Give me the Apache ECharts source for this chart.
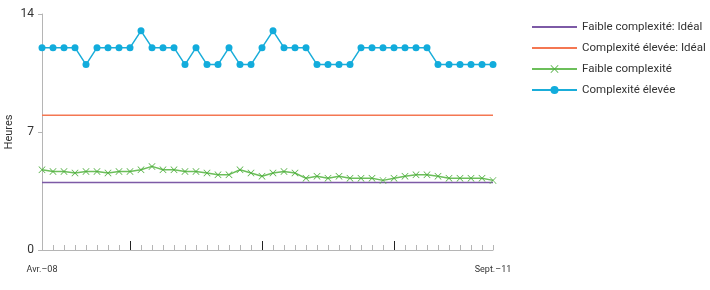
<!DOCTYPE html>
<html>
<head>
<meta charset="utf-8">
<script src="https://cdn.jsdelivr.net/npm/echarts@6/dist/echarts.min.js"></script>
<style>html,body{margin:0;padding:0;background:#fff}#c{width:710px;height:290px}</style>
</head>
<body>
<div id="c"></div>
<script>
var months = ['Avr.','Mai','Juin','Juil.','Août','Sept.','Oct.','Nov.','Déc.','Janv.','Févr.','Mars'];
var years = ['08','09','10','11'];
var categories = [];
(function(){var m=0,y=0;for(var i=0;i<42;i++){categories.push(months[m]+'–'+years[y]); m++; if(months[m-1]==='Déc.'){y++;} if(m===12)m=0;}})();

var seriesNames = ['Faible complexité: Idéal','Complexité élevée: Idéal','Faible complexité','Complexité élevée'];
var idealLow  = [4,4,4,4,4,4,4,4,4,4,4,4,4,4,4,4,4,4,4,4,4,4,4,4,4,4,4,4,4,4,4,4,4,4,4,4,4,4,4,4,4,4];
var idealHigh = [8,8,8,8,8,8,8,8,8,8,8,8,8,8,8,8,8,8,8,8,8,8,8,8,8,8,8,8,8,8,8,8,8,8,8,8,8,8,8,8,8,8];
var lowComplexity = [4.76,4.65,4.65,4.57,4.65,4.65,4.57,4.65,4.65,4.76,4.96,4.76,4.76,4.65,4.65,4.57,4.47,4.47,4.76,4.57,4.37,4.57,4.65,4.57,4.25,4.37,4.25,4.37,4.25,4.25,4.25,4.13,4.25,4.37,4.47,4.47,4.37,4.25,4.25,4.25,4.25,4.13];
var highComplexity = [12,12,12,12,11,12,12,12,12,13,12,12,12,11,12,11,11,12,11,11,12,13,12,12,12,11,11,11,11,12,12,12,12,12,12,12,11,11,11,11,11,11];
var yTicks = [0,7,14];

var FONT = 'Roboto, "Liberation Sans", sans-serif';
var XPATH = 'path://M0,0.7L0.7,0L5,4.3L9.3,0L10,0.7L5.7,5L10,9.3L9.3,10L5,5.7L0.7,10L0,9.3L4.3,5Z';
var chart = echarts.init(document.getElementById('c'));
chart.setOption({
  animation: false,
  textStyle: {fontFamily: FONT},
  grid: {left: 42, right: 217, top: 14, bottom: 40, outerBoundsMode: 'none', containLabel: false},
  legend: {
    orient: 'vertical', left: 526, top: 16,
    itemWidth: 45, itemHeight: 10, itemGap: 9,
    textStyle: {fontSize: 11.5, color: '#333', fontFamily: FONT},
    data: [
      {name: seriesNames[0], itemStyle: {opacity: 0}},
      {name: seriesNames[1], itemStyle: {opacity: 0}},
      {name: seriesNames[2]},
      {name: seriesNames[3]}
    ]
  },
  xAxis: [{
    type: 'category', data: categories, boundaryGap: false,
    axisLine: {lineStyle: {color: '#b5b5b5', width: 1}},
    axisTick: {inside: true, length: 5, interval: 0, lineStyle: {color: '#b5b5b5'}},
    axisLabel: {
      interval: function(i){return i===0 || i===categories.length-1;},
      margin: 15, fontSize: 9, color: '#333', fontFamily: FONT,
      showMinLabel: true, showMaxLabel: true
    },
    splitLine: {show: false}
  },{
    type: 'category', data: categories, boundaryGap: false, position: 'bottom',
    axisLine: {show: false},
    axisTick: {inside: true, length: 9, interval: function(i){return categories[i].indexOf('Déc.')===0;}, lineStyle: {color: '#222', width: 1}},
    axisLabel: {show: false},
    splitLine: {show: false}
  }],
  yAxis: {
    type: 'value', min: yTicks[0], max: yTicks[2], interval: 7,
    name: 'Heures', nameLocation: 'middle', nameGap: 27, nameRotate: 90, nameMoveOverlap: false,
    nameTextStyle: {fontSize: 11, color: '#333', fontFamily: FONT},
    axisLine: {show: true, lineStyle: {color: '#b5b5b5'}},
    axisTick: {show: true, length: 4, lineStyle: {color: '#b5b5b5'}},
    axisLabel: {fontSize: 12, color: '#333', margin: 8, fontFamily: FONT},
    splitLine: {show: false}
  },
  series: [
    {name: seriesNames[0], type: 'line', data: idealLow, symbol: 'none', lineStyle: {color: '#7d5aa6', width: 1.5}, itemStyle: {color: '#7d5aa6'}},
    {name: seriesNames[1], type: 'line', data: idealHigh, symbol: 'none', lineStyle: {color: '#f47752', width: 1.5}, itemStyle: {color: '#f47752'}},
    {name: seriesNames[2], type: 'line', data: lowComplexity, symbol: XPATH, symbolSize: 7,
      lineStyle: {color: '#6cbf5a', width: 1.5}, itemStyle: {color: '#4fae3f'}},
    {name: seriesNames[3], type: 'line', data: highComplexity, symbol: 'circle', symbolSize: 7,
      lineStyle: {color: '#1aadd9', width: 1.5}, itemStyle: {color: '#12acdc'}}
  ]
});
</script>
</body>
</html>
